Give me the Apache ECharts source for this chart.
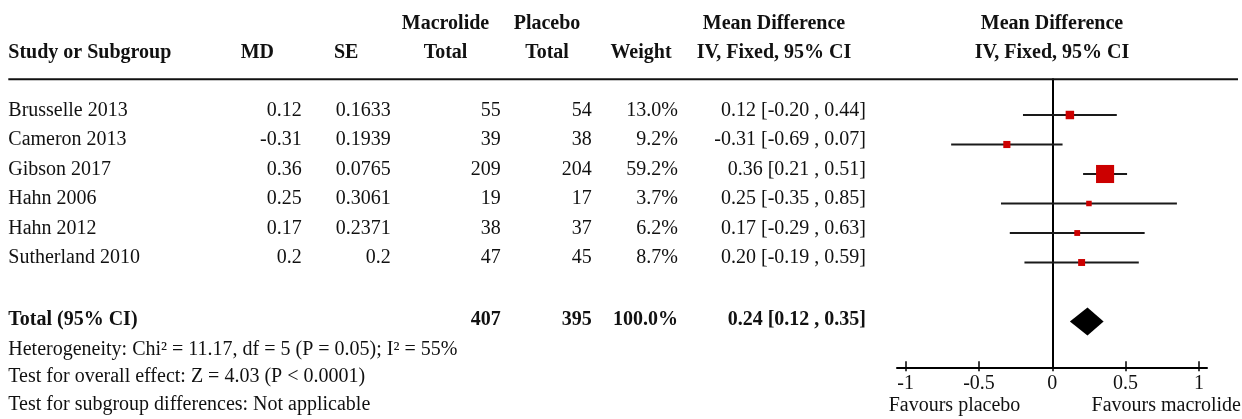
<!DOCTYPE html>
<html><head><meta charset="utf-8">
<script src="https://cdn.jsdelivr.net/npm/echarts@6.0.0/dist/echarts.min.js"></script>
<style>html,body{margin:0;padding:0;background:#fff}#c{width:1242px;height:419px}</style>
</head><body><div id="c"></div>
<script>
// ---------------- data ----------------
const studies = ['Brusselle 2013', 'Cameron 2013', 'Gibson 2017', 'Hahn 2006', 'Hahn 2012', 'Sutherland 2010'];
const md = [0.12, -0.31, 0.36, 0.25, 0.17, 0.2];
const se = [0.1633, 0.1939, 0.0765, 0.3061, 0.2371, 0.2];
const macrolideTotal = [55, 39, 209, 19, 38, 47];
const placeboTotal = [54, 38, 204, 17, 37, 45];
const weight = [13.0, 9.2, 59.2, 3.7, 6.2, 8.7];
const ciLow = [-0.20, -0.69, 0.21, -0.35, -0.29, -0.19];
const ciHigh = [0.44, 0.07, 0.51, 0.85, 0.63, 0.59];
const totalLabel = 'Total (95% CI)';
const totalMD = 0.24, totalLow = 0.12, totalHigh = 0.35;
const totalMacrolide = 407, totalPlacebo = 395, totalWeight = 100.0;
const footnotes = [
  'Heterogeneity: Chi\u00b2 = 11.17, df = 5 (P = 0.05); I\u00b2 = 55%',
  'Test for overall effect: Z = 4.03 (P < 0.0001)',
  'Test for subgroup differences: Not applicable'
];
const xTicks = [-1, -0.5, 0, 0.5, 1];
const favours = ['Favours placebo', 'Favours macrolide'];
const headerTop = ['Macrolide', 'Placebo', 'Mean Difference', 'Mean Difference'];
const headerBottom = ['Study or Subgroup', 'MD', 'SE', 'Total', 'Total', 'Weight', 'IV, Fixed, 95% CI', 'IV, Fixed, 95% CI'];

// ---------------- layout ----------------
const FONT = 'Liberation Serif';
const FS = 20;
const ROW1_Y = 115, ROW_H = 29.5, TEXT_DY = -4.3;
function rowAt(px) { return 1 + (px - ROW1_Y) / ROW_H; }
const ZERO_X = 1052.3, UNIT = 146.6;
const PLOT_L = 897, PLOT_R = 1207, PLOT_T = 79.3, PLOT_B = 367.3;
const C = { study: 8.3, md: 301.7, se: 390.7, mac: 500.7, pla: 591.7, wt: 678, ci: 866 };
const H = { md: 257.3, se: 346.2, mac: 445.5, pla: 547, wt: 641, ci: 774, forest: 1052 };
const HEAD_ROWS = [-1.93, -0.95];
const FOOT_ROWS = [9.09, 10.03, 10.97];

const fmt2 = v => v.toFixed(2);
const ciText = (m, l, h) => fmt2(m) + ' [' + fmt2(l) + ' , ' + fmt2(h) + ']';

const cells = [];
function cell(x, row, t, align, bold) { cells.push({ x, row, t, align, bold }); }
// headers
cell(H.mac, HEAD_ROWS[0], headerTop[0], 'center', true);
cell(H.pla, HEAD_ROWS[0], headerTop[1], 'center', true);
cell(H.ci, HEAD_ROWS[0], headerTop[2], 'center', true);
cell(H.forest, HEAD_ROWS[0], headerTop[3], 'center', true);
cell(C.study, HEAD_ROWS[1], headerBottom[0], 'left', true);
cell(H.md, HEAD_ROWS[1], headerBottom[1], 'center', true);
cell(H.se, HEAD_ROWS[1], headerBottom[2], 'center', true);
cell(H.mac, HEAD_ROWS[1], headerBottom[3], 'center', true);
cell(H.pla, HEAD_ROWS[1], headerBottom[4], 'center', true);
cell(H.wt, HEAD_ROWS[1], headerBottom[5], 'center', true);
cell(H.ci, HEAD_ROWS[1], headerBottom[6], 'center', true);
cell(H.forest, HEAD_ROWS[1], headerBottom[7], 'center', true);
// study rows
studies.forEach((s, i) => {
  const r = i + 1;
  cell(C.study, r, s, 'left', false);
  cell(C.md, r, String(md[i]), 'right', false);
  cell(C.se, r, String(se[i]), 'right', false);
  cell(C.mac, r, String(macrolideTotal[i]), 'right', false);
  cell(C.pla, r, String(placeboTotal[i]), 'right', false);
  cell(C.wt, r, weight[i].toFixed(1) + '%', 'right', false);
  cell(C.ci, r, ciText(md[i], ciLow[i], ciHigh[i]), 'right', false);
});
// total row
const TOTAL_ROW = studies.length + 2;
const TOTAL_TEXT_ROW = TOTAL_ROW + 0.08;
cell(C.study, TOTAL_TEXT_ROW, totalLabel, 'left', true);
cell(C.mac, TOTAL_TEXT_ROW, String(totalMacrolide), 'right', true);
cell(C.pla, TOTAL_TEXT_ROW, String(totalPlacebo), 'right', true);
cell(C.wt, TOTAL_TEXT_ROW, totalWeight.toFixed(1) + '%', 'right', true);
cell(C.ci, TOTAL_TEXT_ROW, ciText(totalMD, totalLow, totalHigh), 'right', true);
footnotes.forEach((f, k) => cell(C.study, FOOT_ROWS[k], f, 'left', false));
cell(954.5, 11, favours[0], 'center', false);
cell(1241, 11, favours[1], 'right', false);

const chart = echarts.init(document.getElementById('c'), null, { renderer: 'canvas' });
const option = {
  backgroundColor: '#ffffff',
  animation: false,
  grid: [
    { left: PLOT_L, width: PLOT_R - PLOT_L, top: PLOT_T, height: PLOT_B - PLOT_T },
    { left: 0, right: 0, top: 0, bottom: 0 }
  ],
  xAxis: [
    {
      gridIndex: 0, type: 'value',
      min: (PLOT_L - ZERO_X) / UNIT, max: (PLOT_R - ZERO_X) / UNIT,
      position: 'bottom',
      axisLine: { show: true, onZero: false, lineStyle: { color: '#000', width: 2 } },
      axisTick: { show: true, inside: true, length: 6, customValues: xTicks, lineStyle: { color: '#000', width: 1.5 } },
      axisLabel: { show: true, customValues: xTicks, margin: 6, color: '#111', fontFamily: FONT, fontSize: FS },
      splitLine: { show: false }
    },
    {
      gridIndex: 0, type: 'value',
      min: (PLOT_L - ZERO_X) / UNIT, max: (PLOT_R - ZERO_X) / UNIT,
      position: 'bottom',
      axisLine: { show: false, onZero: false },
      axisTick: { show: true, inside: false, length: 4, customValues: xTicks, lineStyle: { color: '#000', width: 1.5 } },
      axisLabel: { show: false },
      splitLine: { show: false }
    },
    { gridIndex: 1, type: 'value', min: 0, max: 1242, show: false }
  ],
  yAxis: [
    {
      gridIndex: 0, type: 'value', inverse: true,
      min: rowAt(PLOT_T), max: rowAt(PLOT_B),
      axisLine: { show: true, onZero: true, lineStyle: { color: '#000', width: 2 } },
      axisTick: { show: false }, axisLabel: { show: false }, splitLine: { show: false }
    },
    { gridIndex: 1, type: 'value', inverse: true, min: rowAt(0), max: rowAt(419), show: false }
  ],
  series: [
    {
      type: 'custom', name: 'table', xAxisIndex: 2, yAxisIndex: 1,
      data: cells.map(c => [c.x, c.row]),
      renderItem: function (params, api) {
        const c = cells[params.dataIndex];
        const p = api.coord([c.x, c.row]);
        return {
          type: 'text', x: p[0], y: p[1] + TEXT_DY,
          style: {
            text: c.t, fontFamily: FONT, fontSize: FS, fontWeight: c.bold ? 'bold' : 'normal',
            fill: '#111', align: c.align, verticalAlign: 'middle'
          }
        };
      },
      silent: true, z: 5
    },
    {
      type: 'custom', name: 'rule', xAxisIndex: 2, yAxisIndex: 1,
      data: [[8.3, 1238, rowAt(PLOT_T)]],
      renderItem: function (params, api) {
        const a = api.coord([api.value(0), api.value(2)]);
        const b = api.coord([api.value(1), api.value(2)]);
        return { type: 'line', shape: { x1: a[0], y1: a[1], x2: b[0], y2: b[1] }, style: { stroke: '#111', lineWidth: 2 } };
      },
      silent: true
    },
    {
      type: 'custom', name: 'studies', xAxisIndex: 0, yAxisIndex: 0,
      data: studies.map((s, i) => [ciLow[i], ciHigh[i], md[i], i + 1, weight[i]]),
      encode: { x: [0, 1, 2], y: 3 },
      renderItem: function (params, api) {
        const row = api.value(3);
        const p1 = api.coord([api.value(0), row]);
        const p2 = api.coord([api.value(1), row]);
        const c = api.coord([api.value(2), row]);
        const s = Math.max(5.5, 2.35 * Math.sqrt(api.value(4)));
        return {
          type: 'group', children: [
            { type: 'line', shape: { x1: p1[0], y1: p1[1], x2: p2[0], y2: p2[1] }, style: { stroke: '#1a1a1a', lineWidth: 2 } },
            { type: 'rect', shape: { x: c[0] - s / 2, y: c[1] - s / 2, width: s, height: s }, style: { fill: '#cc0000' } }
          ]
        };
      },
      silent: true, z: 3
    },
    {
      type: 'custom', name: 'total', xAxisIndex: 0, yAxisIndex: 0,
      data: [[totalLow, totalHigh, totalMD, TOTAL_ROW]],
      encode: { x: [0, 1, 2], y: 3 },
      renderItem: function (params, api) {
        const row = api.value(3);
        const l = api.coord([api.value(0), row]);
        const h = api.coord([api.value(1), row]);
        const m = api.coord([api.value(2), row]);
        const hh = 14;
        return {
          type: 'polygon',
          shape: { points: [[l[0], l[1]], [m[0], m[1] - hh], [h[0], h[1]], [m[0], m[1] + hh]] },
          style: { fill: '#000' }
        };
      },
      silent: true, z: 3
    }
  ]
};
chart.setOption(option);
</script>
</body></html>
